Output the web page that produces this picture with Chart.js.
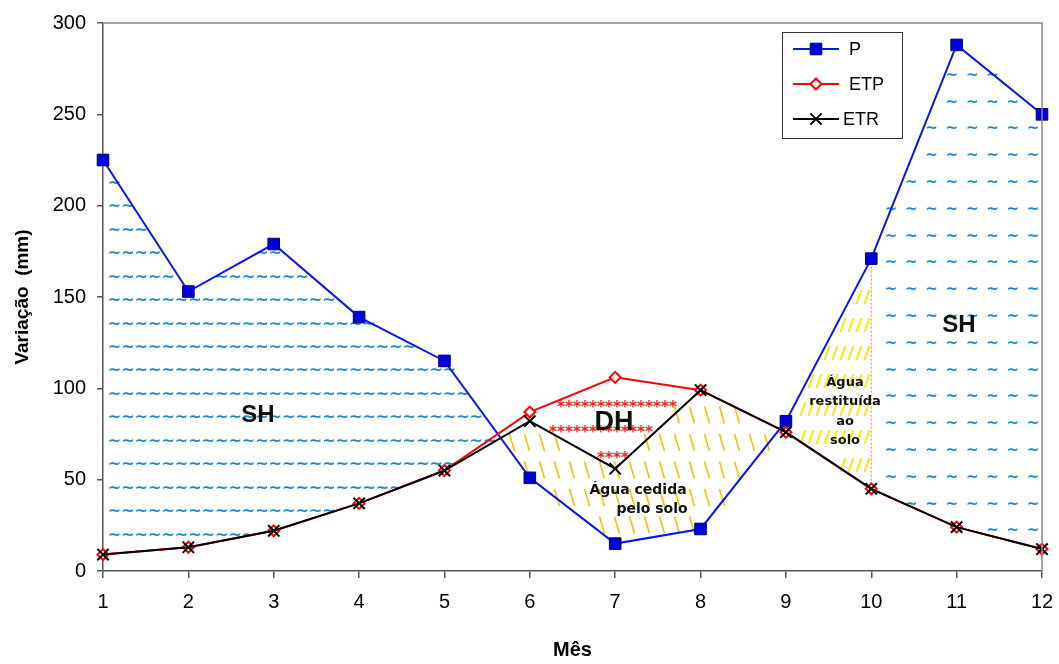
<!DOCTYPE html>
<html>
<head>
<meta charset="utf-8">
<script src="https://cdn.jsdelivr.net/npm/chart.js@4.4.1/dist/chart.umd.min.js"></script>
<style>
  html, body { margin: 0; padding: 0; background: #fff; }
  #wrap { width: 1059px; height: 664px; }
</style>
</head>
<body>
<div id="wrap"><canvas id="balanco" width="1059" height="664"></canvas></div>
<script>
// dados do balanço hídrico (mm)
const meses = [1, 2, 3, 4, 5, 6, 7, 8, 9, 10, 11, 12];
const valoresP = [225, 153, 179, 139, 115, 51, 15, 23, 82, 171, 288, 250];
const valoresETP = [9, 13, 22, 37, 55, 87, 106, 99, 76, 45, 24, 12];
const valoresETR = [9, 13, 22, 37, 55, 82, 56, 99, 76, 45, 24, 12];
const yMin = 0, yMax = 300, yPasso = 50;

// valor interpolado de uma série num mês fracionário
function valorEm(serie, m) {
    const i = Math.min(Math.floor(m), serie.length - 1);
    const t = m - i;
    const a = serie[i - 1], b = serie[Math.min(i, serie.length - 1)];
    return a + (b - a) * t;
}

// mês em que duas séries se cruzam entre m0 e m0+1
function cruzamento(a, b, m0) {
    const d0 = a[m0 - 1] - b[m0 - 1];
    const d1 = a[m0] - b[m0];
    return m0 + d0 / (d0 - d1);
}

// polígono entre a série de cima e a de baixo
function regiao(chart, cima, baixo, m0, m1) {
    const { x, y } = chart.scales;
    const ms = [m0];
    for (let m = Math.floor(m0) + 1; m < m1; m++) ms.push(m);
    ms.push(m1);
    const path = new Path2D();
    ms.forEach((m, i) => {
        const px = x.getPixelForValue(m), py = y.getPixelForValue(valorEm(cima, m));
        if (i === 0) path.moveTo(px, py); else path.lineTo(px, py);
    });
    ms.slice().reverse().forEach(m => {
        path.lineTo(x.getPixelForValue(m), y.getPixelForValue(valorEm(baixo, m)));
    });
    path.closePath();
    return path;
}

// preenche uma região com um caractere repetido
function preencheTexto(ctx, path, area, txt, x0, y0, dx, dy, font, cor, dyTxt, folga) {
    const f = folga || 0;
    ctx.save();
    ctx.font = font;
    ctx.fillStyle = cor;
    ctx.textAlign = 'center';
    ctx.textBaseline = 'middle';
    for (let yy = y0; yy < area.bottom; yy += dy) {
        for (let xx = x0; xx < area.right; xx += dx) {
            if (ctx.isPointInPath(path, xx - f, yy) && ctx.isPointInPath(path, xx + f, yy)) {
                ctx.fillText(txt, xx, yy + (dyTxt || 0));
            }
        }
    }
    ctx.restore();
}

// preenche uma região com tracinhos inclinados
function preencheTracos(ctx, path, area, x0, y0, dx, dy, incl, meio, cor, largura) {
    ctx.save();
    ctx.strokeStyle = cor;
    ctx.lineWidth = largura;
    ctx.beginPath();
    for (let yy = y0; yy < area.bottom; yy += dy) {
        for (let xx = x0; xx < area.right; xx += dx) {
            if (ctx.isPointInPath(path, xx, yy)) {
                ctx.moveTo(xx - incl, yy - meio);
                ctx.lineTo(xx + incl, yy + meio);
            }
        }
    }
    ctx.stroke();
    ctx.restore();
}

const pluginAreas = {
    id: 'areas',
    beforeDatasetsDraw(chart) {
        const ctx = chart.ctx;
        const area = chart.chartArea;
        const { x, y } = chart.scales;

        // SH à esquerda (P acima de ETP)
        const mCruzaEsq = cruzamento(valoresP, valoresETP, 5);
        const shEsq = regiao(chart, valoresP, valoresETR, 1, mCruzaEsq);
        preencheTexto(ctx, shEsq, area, '~', area.left + 11.5, area.top + 160.7, 13.4, 23.45,
            'bold 16px "DejaVu Sans"', '#1d86d0', 0);

        // DH: água cedida pelo solo (ETR acima de P)
        const mIniDH = cruzamento(valoresP, valoresETR, 5);
        const mFimDH = cruzamento(valoresP, valoresETR, 8);
        const dh = regiao(chart, valoresETR, valoresP, mIniDH, mFimDH);
        preencheTracos(ctx, dh, area, area.left + 409, area.top + 392, 15, 27.5, 2.5, 8.5, '#f3c300', 1.6);

        // deficiência: ETP acima de ETR
        const def = regiao(chart, valoresETP, valoresETR, 5, 8);
        preencheTexto(ctx, def, area, '*', area.left + 442, area.top + 381, 8, 25.5,
            'bold 15px "DejaVu Sans"', '#ff1a1a', 4, 5);

        // água restituída ao solo
        const rest = regiao(chart, valoresP, valoresETR, mFimDH, 10);
        preencheTracos(ctx, rest, area, area.left + 700, area.top + 274, 8, 28, -2.5, 7, '#f4ef00', 2);

        // SH à direita
        const shDir = regiao(chart, valoresP, valoresETR, 10, 12);
        preencheTexto(ctx, shDir, area, '~', area.left + 788, area.top + 53, 20.3, 26.8,
            'bold 15px "DejaVu Sans"', '#1d86d0', 0);

        // linha pontilhada em x = 10
        ctx.save();
        ctx.strokeStyle = '#ff7070';
        ctx.lineWidth = 1;
        ctx.setLineDash([2, 2]);
        ctx.beginPath();
        ctx.moveTo(x.getPixelForValue(10), y.getPixelForValue(valoresP[9]));
        ctx.lineTo(x.getPixelForValue(10), y.getPixelForValue(valoresETR[9]));
        ctx.stroke();
        ctx.restore();
    },
    afterDatasetsDraw(chart) {
        const ctx = chart.ctx;
        const area = chart.chartArea;

        // moldura superior e direita
        ctx.save();
        ctx.strokeStyle = '#8a8a8a';
        ctx.lineWidth = 1.5;
        ctx.beginPath();
        ctx.moveTo(area.left, area.top);
        ctx.lineTo(area.right, area.top);
        ctx.lineTo(area.right, area.bottom);
        ctx.stroke();
        ctx.restore();

        // textos das áreas
        ctx.save();
        ctx.fillStyle = '#111';
        ctx.textAlign = 'center';
        ctx.textBaseline = 'middle';
        ctx.font = 'bold 24px "Liberation Sans"';
        ctx.fillText('SH', area.left + 155, area.top + 392);
        ctx.fillText('SH', area.left + 856, area.top + 302);
        ctx.font = 'bold 27px "Liberation Sans"';
        ctx.fillText('DH', area.left + 511, area.top + 400);
        ctx.font = 'bold 14px "DejaVu Sans"';
        ctx.fillText('Água cedida', area.left + 535, area.top + 467);
        ctx.fillText('pelo solo', area.left + 549, area.top + 486);
        ctx.font = 'bold 13px "DejaVu Sans"';
        ctx.fillText('Água', area.left + 742, area.top + 360);
        ctx.fillText('restituída', area.left + 742, area.top + 379);
        ctx.fillText('ao', area.left + 742, area.top + 399);
        ctx.fillText('solo', area.left + 742, area.top + 418);
        ctx.restore();

        // legenda
        const lx = 782, ly = 32, lw = 120, lh = 106;
        ctx.save();
        ctx.fillStyle = '#fff';
        ctx.fillRect(lx, ly, lw, lh);
        ctx.strokeStyle = '#333';
        ctx.lineWidth = 1;
        ctx.strokeRect(lx + 0.5, ly + 0.5, lw, lh);
        const linhasY = [49, 84, 119];
        chart.data.datasets.forEach((ds, i) => {
            const yy = linhasY[i];
            ctx.strokeStyle = ds.borderColor;
            ctx.lineWidth = 2;
            ctx.beginPath();
            ctx.moveTo(lx + 11, yy);
            ctx.lineTo(lx + 57, yy);
            ctx.stroke();
            ctx.fillStyle = ds.pointBackgroundColor;
            ctx.strokeStyle = ds.pointBorderColor;
            ctx.lineWidth = ds.pointBorderWidth;
            Chart.helpers.drawPoint(ctx, {
                pointStyle: ds.pointStyle,
                radius: ds.pointRadius,
                borderWidth: ds.pointBorderWidth
            }, lx + 34, yy);
            ctx.fillStyle = '#000';
            ctx.font = '18px "Liberation Sans"';
            ctx.textAlign = 'left';
            ctx.textBaseline = 'middle';
            ctx.fillText(ds.label, lx + (i === 2 ? 61 : 67), yy + 1);
        });
        ctx.restore();
    }
};

const paraPontos = vals => vals.map((v, i) => ({ x: meses[i], y: v }));

new Chart(document.getElementById('balanco'), {
    type: 'line',
    data: {
        datasets: [
            {
                label: 'P',
                data: paraPontos(valoresP),
                borderColor: '#0a14f0',
                borderWidth: 2,
                pointStyle: 'rect',
                pointRadius: 8.2,
                pointBackgroundColor: '#0000dd',
                pointBorderColor: '#000070',
                pointBorderWidth: 1,
                tension: 0,
                clip: false,
                order: 3
            },
            {
                label: 'ETP',
                data: paraPontos(valoresETP),
                borderColor: '#ff0000',
                borderWidth: 2,
                pointStyle: 'rectRot',
                pointRadius: 5.5,
                pointBackgroundColor: '#ffffff',
                pointBorderColor: '#ff0000',
                pointBorderWidth: 2,
                tension: 0,
                clip: false,
                order: 2
            },
            {
                label: 'ETR',
                data: paraPontos(valoresETR),
                borderColor: '#000000',
                borderWidth: 2,
                pointStyle: 'crossRot',
                pointRadius: 8,
                pointBackgroundColor: '#000000',
                pointBorderColor: '#000000',
                pointBorderWidth: 2,
                tension: 0,
                clip: false,
                order: 1
            }
        ]
    },
    options: {
        responsive: false,
        animation: false,
        layout: { padding: { top: 21, right: 17, left: 0, bottom: 0 } },
        plugins: {
            legend: { display: false },
            tooltip: { enabled: false }
        },
        scales: {
            x: {
                type: 'linear',
                min: meses[0],
                max: meses[meses.length - 1],
                afterFit(scale) {
                    scale.height = 93;
                    scale.paddingLeft = 0;
                    scale.paddingRight = 0;
                },
                ticks: {
                    stepSize: 1,
                    color: '#000',
                    padding: 12,
                    font: { family: '"Liberation Sans"', size: 20 }
                },
                grid: { drawOnChartArea: false, tickLength: 7, color: '#555', lineWidth: 1.5 },
                border: { color: '#555', width: 1.5 },
                title: {
                    display: true,
                    text: 'Mês',
                    color: '#000',
                    padding: { top: 0, bottom: 2 },
                    font: { family: '"Liberation Sans"', size: 20, weight: 'bold' }
                }
            },
            y: {
                min: yMin,
                max: yMax,
                afterFit(scale) { scale.width = 103; },
                ticks: {
                    stepSize: yPasso,
                    color: '#000',
                    padding: 11,
                    font: { family: '"Liberation Sans"', size: 20 }
                },
                grid: { drawOnChartArea: false, tickLength: 6, color: '#555', lineWidth: 1.5 },
                border: { color: '#555', width: 1.5 },
                title: {
                    display: true,
                    text: 'Variação  (mm)',
                    color: '#000',
                    padding: { top: 11, bottom: 0 },
                    font: { family: '"Liberation Sans"', size: 19, weight: 'bold' }
                }
            }
        }
    },
    plugins: [pluginAreas]
});
</script>
</body>
</html>
